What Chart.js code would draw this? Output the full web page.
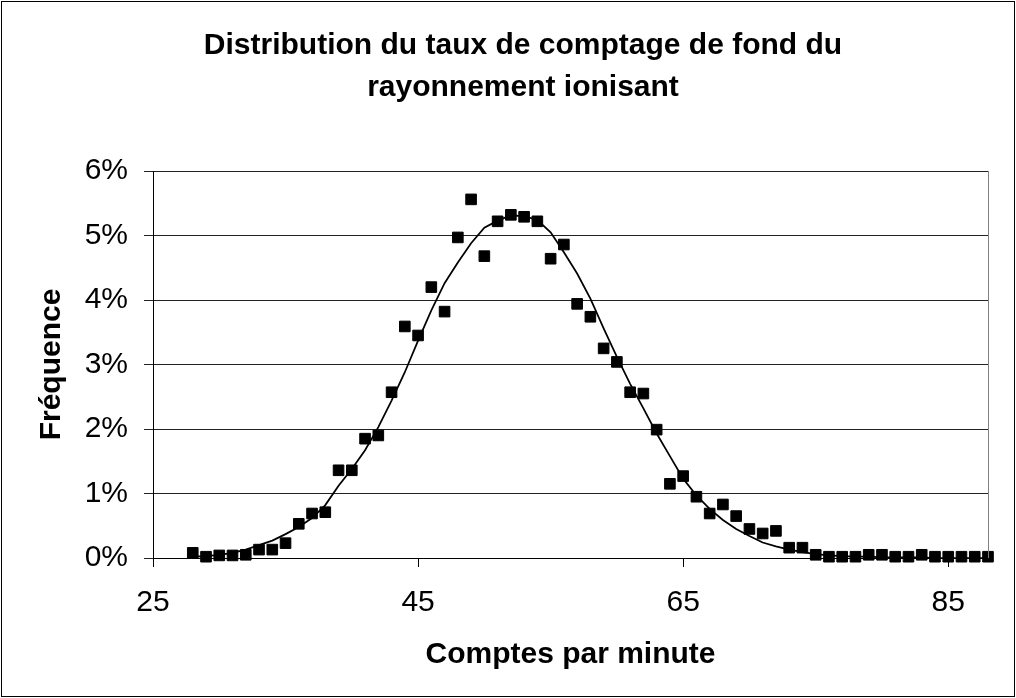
<!DOCTYPE html>
<html lang="fr">
<head>
<meta charset="utf-8">
<title>Distribution du taux de comptage de fond</title>
<script src="https://cdn.jsdelivr.net/npm/chart.js@4/dist/chart.umd.min.js"></script>
<style>
  html, body { margin: 0; padding: 0; background: #fff; }
  canvas { display: block; }
</style>
</head>
<body>
<canvas id="chart" width="1016" height="698"></canvas>
<script>
/* ===== Données ===== */

// comptes par minute (abscisse)
const counts = [
  28, 29, 30, 31, 32, 33, 34, 35, 36, 37, 38, 39, 40, 41, 42, 43, 44, 45, 46, 47,
  48, 49, 50, 51, 52, 53, 54, 55, 56, 57, 58, 59, 60, 61, 62, 63, 64, 65, 66, 67,
  68, 69, 70, 71, 72, 73, 74, 75, 76, 77, 78, 79, 80, 81, 82, 83, 84, 85, 86, 87, 88,
];

// fréquence observée (%) - carrés
const observed = [
  0.08, 0.02, 0.04, 0.04, 0.05, 0.13, 0.13, 0.23, 0.53, 0.69, 0.71, 1.36, 1.36, 1.85, 1.90, 2.57, 3.59, 3.45, 4.20, 3.82,
  4.97, 5.56, 4.68, 5.22, 5.32, 5.29, 5.22, 4.64, 4.86, 3.94, 3.74, 3.25, 3.04, 2.57, 2.55, 1.99, 1.15, 1.27, 0.95, 0.69,
  0.83, 0.65, 0.45, 0.38, 0.42, 0.16, 0.16, 0.05, 0.02, 0.02, 0.02, 0.05, 0.05, 0.02, 0.02, 0.05, 0.02, 0.02, 0.02, 0.02, 0.02,
];

// courbe ajustée (%) - trait continu
const fitted = [
  0.02, 0.03, 0.05, 0.08, 0.13, 0.20, 0.27, 0.37, 0.48, 0.62, 0.82, 1.12, 1.38, 1.67, 2.03, 2.44, 2.88, 3.37, 3.84, 4.26,
  4.58, 4.88, 5.12, 5.23, 5.31, 5.30, 5.24, 5.05, 4.74, 4.41, 4.02, 3.56, 3.12, 2.70, 2.32, 1.93, 1.58, 1.23, 0.97, 0.76,
  0.59, 0.45, 0.34, 0.24, 0.18, 0.13, 0.09, 0.06, 0.04, 0.03, 0.02, 0.02, 0.01, 0.01, 0.01, 0.01, 0.00, 0.00, 0.00, 0.00, 0.00,
];

const xTicks = [25, 45, 65, 85];
const yTicks = [0, 1, 2, 3, 4, 5, 6];

const titleLines = ["Distribution du taux de comptage de fond du", "rayonnement ionisant"];
const xTitle = "Comptes par minute";
const yTitle = "Fréquence";

/* ===== Style ===== */
Chart.defaults.font.family = "'Liberation Sans', Arial, sans-serif";
Chart.defaults.color = "#000";

// cadre extérieur + bord droit gris de la zone de tracé
const frame = {
  id: "frame",
  beforeDraw(c) {
    const { ctx, width, height } = c;
    ctx.save();
    ctx.fillStyle = "#fff";
    ctx.fillRect(0, 0, width, height);
    ctx.restore();
  },
  afterDraw(c) {
    const { ctx, chartArea: a, width, height } = c;
    ctx.save();
    ctx.strokeStyle = "#000";
    ctx.lineWidth = 1;
    ctx.strokeRect(1.5, 1.5, width - 3, height - 3);
    ctx.strokeStyle = "#808080";
    ctx.beginPath();
    ctx.moveTo(Math.round(a.right) + 0.5, a.top);
    ctx.lineTo(Math.round(a.right) + 0.5, a.bottom);
    ctx.stroke();
    ctx.restore();
  },
};

const pts = ys => counts.map((x, i) => ({ x, y: ys[i] }));

new Chart(document.getElementById("chart"), {
  type: "scatter",
  data: {
    datasets: [
      { label: "Observé", data: pts(observed), pointStyle: "rect", pointRadius: 7.5,
        backgroundColor: "#000", borderColor: "#000", borderWidth: 1, showLine: false, clip: false, order: 0 },
      { label: "Ajustement", data: pts(fitted), showLine: true, pointRadius: 0, tension: 0,
        borderColor: "#000", borderWidth: 1.75, fill: false, order: 1 },
    ],
  },
  plugins: [frame],
  options: {
    responsive: false,
    animation: false,
    // marge gauche plus large pour centrer le titre comme dans Excel
    layout: { padding: { left: 58, right: 28, top: 0, bottom: 10 } },
    plugins: {
      legend: { display: false },
      tooltip: { enabled: false },
      title: {
        display: true, text: titleLines, color: "#000",
        font: { size: 30, weight: "bold", lineHeight: 1.4 },
        padding: { top: 25, bottom: 62 },
      },
    },
    scales: {
      x: {
        type: "linear", position: "bottom", min: 25, max: 88,
        afterBuildTicks: s => { s.ticks = xTicks.map(v => ({ value: v })); },
        afterFit: s => { s.height = 130; },
        ticks: { font: { size: 30 }, color: "#000", padding: 18, maxRotation: 0, autoSkip: false },
        grid: { drawOnChartArea: false, drawTicks: true, tickLength: 9, color: "#000" },
        border: { color: "#000", width: 1 },
        title: { display: true, text: xTitle, color: "#000", font: { size: 30, weight: "bold" }, padding: { top: 0, bottom: 15 } },
      },
      y: {
        min: 0, max: 6,
        afterBuildTicks: s => { s.ticks = yTicks.map(v => ({ value: v })); },
        afterFit: s => { s.width = 95; },
        ticks: { font: { size: 30 }, color: "#000", padding: 16, callback: v => v + "%" },
        grid: { color: "#222", tickLength: 9, drawTicks: true },
        border: { color: "#000", width: 1 },
        // padding négatif : le titre d'axe déborde dans la marge gauche
        title: { display: true, text: yTitle, color: "#000", font: { size: 30, weight: "bold" }, padding: { top: -24, bottom: 0 } },
      },
    },
  },
});
</script>
</body>
</html>
